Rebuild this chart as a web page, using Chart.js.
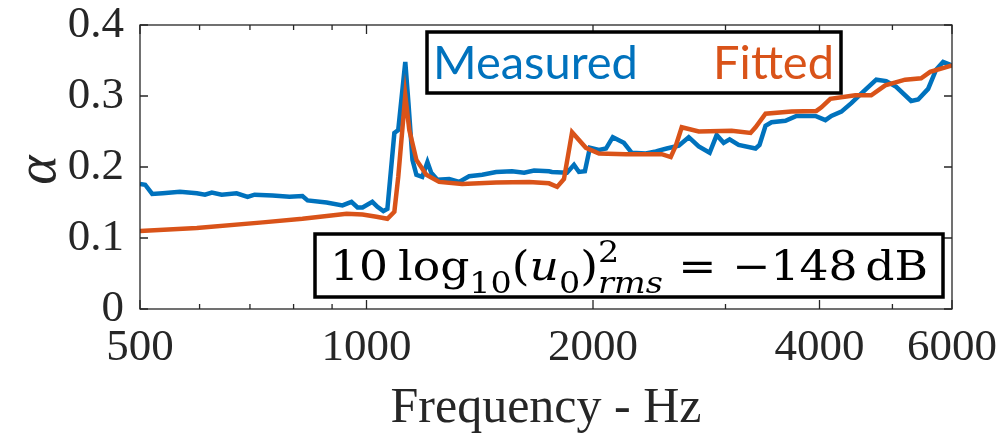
<!DOCTYPE html>
<html>
<head>
<meta charset="utf-8">
<script src="https://cdn.jsdelivr.net/npm/chart.js@4.4.1/dist/chart.umd.min.js"></script>
<style>
    html, body { margin: 0; padding: 0; background: #fff; }
    #wrap { width: 1006px; height: 435px; }
</style>
</head>
<body>
<div id="wrap"><canvas id="alpha-chart" width="1006" height="435"></canvas></div>
<script>
// Absorption coefficient vs frequency
const measuredFreq = [500, 508, 519, 536, 565, 595, 610, 623, 642, 672, 695, 710, 750, 790, 822, 835,
    885, 929, 955, 973, 988, 1018, 1034, 1053, 1066, 1089, 1102, 1126, 1137, 1151, 1165, 1186,
    1205, 1219, 1242, 1288, 1328, 1369, 1425, 1487, 1561, 1620, 1670, 1748, 1764, 1847, 1887,
    1916, 1951, 1981, 2037, 2081, 2125, 2198, 2252, 2351, 2424, 2506, 2600, 2681, 2764, 2858,
    2920, 2983, 3038, 3123, 3289, 3329, 3391, 3454, 3604, 3728, 3950, 4073, 4148, 4277, 4409,
    4574, 4759, 4906, 5058, 5295, 5410, 5577, 5715, 5839, 6000];
const measuredAlpha = [0.176, 0.175, 0.162, 0.163, 0.165, 0.163, 0.161, 0.164, 0.161, 0.163, 0.158, 0.161, 0.160, 0.158, 0.159, 0.153,
    0.150, 0.146, 0.151, 0.143, 0.143, 0.151, 0.144, 0.138, 0.141, 0.248, 0.252, 0.348, 0.290, 0.210, 0.189, 0.186,
    0.207, 0.192, 0.182, 0.183, 0.179, 0.187, 0.189, 0.193, 0.194, 0.192, 0.195, 0.194, 0.193, 0.192, 0.203,
    0.193, 0.194, 0.227, 0.224, 0.226, 0.242, 0.234, 0.220, 0.219, 0.222, 0.226, 0.230, 0.242, 0.229, 0.220,
    0.245, 0.234, 0.239, 0.231, 0.226, 0.231, 0.258, 0.263, 0.265, 0.272, 0.272, 0.266, 0.272, 0.278, 0.290,
    0.306, 0.323, 0.321, 0.313, 0.293, 0.295, 0.310, 0.337, 0.348, 0.343];

const fittedFreq = [500, 595, 728, 822, 941, 988, 1031, 1066, 1089, 1102, 1126, 1140, 1165, 1201, 1249,
    1340, 1487, 1645, 1748, 1792, 1830, 1876, 1957, 2037, 2212, 2468, 2537, 2577, 2624, 2764,
    3057, 3239, 3289, 3391, 3671, 3962, 4023, 4135, 4463, 4686, 4891, 5199, 5459, 5612, 6000];
const fittedAlpha = [0.110, 0.114, 0.122, 0.127, 0.134, 0.133, 0.130, 0.127, 0.137, 0.186, 0.301, 0.252, 0.210, 0.189, 0.179,
    0.176, 0.178, 0.179, 0.177, 0.172, 0.183, 0.249, 0.227, 0.219, 0.218, 0.218, 0.214, 0.230, 0.256, 0.250,
    0.251, 0.248, 0.256, 0.275, 0.278, 0.279, 0.284, 0.296, 0.301, 0.301, 0.315, 0.323, 0.325, 0.334, 0.343];

const xTickValues = [500, 1000, 2000, 4000, 6000];
const xMinorTicks = [600, 700, 800, 900, 3000, 5000];
const yTickValues = [0, 0.1, 0.2, 0.3, 0.4];

const BLUE = '#0072BD';
const ORANGE = '#D95319';
const AXIS = '#262626';
const SERIF = '"Liberation Serif", "Times New Roman", serif';

function toPoints(xs, ys) {
    return xs.map((x, i) => ({ x: x, y: ys[i] }));
}

// Formula drawn piece by piece, then squeezed into the box width
function drawFormula(ctx, left, right, baseline) {
    const up = '41px "DejaVu Serif"';
    const it = 'italic 41px "DejaVu Serif"';
    const sc = '30px "DejaVu Serif"';
    const scIt = 'italic 30px "DejaVu Serif"';
    const parts = [
        { t: '10', f: up, dy: 0 },
        { gap: 9 },
        { t: 'log', f: up, dy: 0 },
        { t: '10', f: sc, dy: 13 },
        { t: '(', f: up, dy: 0 },
        { t: 'u', f: it, dy: 0 },
        { t: '0', f: sc, dy: 13 },
        { t: ')', f: up, dy: 0 },
        { t: '2', f: sc, dy: -18, still: true },
        { t: 'rms', f: scIt, dy: 13 },
        { gap: 14 },
        { t: '=', f: up, dy: 0 },
        { gap: 14 },
        { t: '\u2212148', f: up, dy: 0 },
        { gap: 7 },
        { t: 'dB', f: up, dy: 0 }
    ];
    let total = 0;
    parts.forEach(p => {
        if (p.gap) { p.w = p.gap; } else { ctx.font = p.f; p.w = ctx.measureText(p.t).width; }
        if (!p.still) total += p.w;
    });
    const sx = (right - left) / total;
    ctx.save();
    ctx.translate(left, baseline);
    ctx.scale(sx, 1);
    ctx.fillStyle = '#000';
    ctx.textAlign = 'left';
    ctx.textBaseline = 'alphabetic';
    let x = 0;
    parts.forEach(p => {
        if (!p.gap) {
            ctx.font = p.f;
            ctx.fillText(p.t, x, p.dy);
        }
        if (!p.still) x += p.w;
    });
    ctx.restore();
}

const frameAndNotes = {
    id: 'frameAndNotes',
    afterDatasetsDraw(chart) {
        const { ctx, chartArea: a, scales: { x, y } } = chart;
        ctx.save();

        // axes box with inward ticks, MATLAB style
        ctx.strokeStyle = AXIS;
        ctx.lineWidth = 1.3;
        ctx.beginPath();
        xTickValues.forEach(v => {
            const px = x.getPixelForValue(v);
            ctx.moveTo(px, a.bottom); ctx.lineTo(px, a.bottom - 9);
            ctx.moveTo(px, a.top); ctx.lineTo(px, a.top + 9);
        });
        xMinorTicks.forEach(v => {
            const px = x.getPixelForValue(v);
            ctx.moveTo(px, a.bottom); ctx.lineTo(px, a.bottom - 5);
            ctx.moveTo(px, a.top); ctx.lineTo(px, a.top + 5);
        });
        yTickValues.forEach(v => {
            const py = y.getPixelForValue(v);
            ctx.moveTo(a.left, py); ctx.lineTo(a.left + 8, py);
            ctx.moveTo(a.right, py); ctx.lineTo(a.right - 8, py);
        });
        ctx.stroke();
        ctx.strokeRect(a.left, a.top, a.right - a.left, a.bottom - a.top);

        // axis titles
        ctx.fillStyle = AXIS;
        ctx.font = '50px ' + SERIF;
        ctx.textAlign = 'center';
        ctx.textBaseline = 'alphabetic';
        ctx.fillText('Frequency - Hz', (a.left + a.right) / 2, 422);

        ctx.save();
        ctx.translate(40, 170);
        ctx.rotate(-Math.PI / 2);
        ctx.font = 'italic 56px ' + SERIF;
        ctx.textBaseline = 'middle';
        ctx.fillText('\u03B1', 0, 0);
        ctx.restore();

        // legend box
        ctx.fillStyle = '#fff';
        ctx.fillRect(427, 32, 414, 61);
        ctx.strokeStyle = '#000';
        ctx.lineWidth = 3.5;
        ctx.strokeRect(427, 32, 414, 61);
        ctx.font = '47px Lato, "Open Sans", sans-serif';
        ctx.textBaseline = 'alphabetic';
        ctx.textAlign = 'left';
        ctx.fillStyle = BLUE;
        ctx.fillText('Measured', 433, 79);
        ctx.textAlign = 'right';
        ctx.fillStyle = ORANGE;
        ctx.fillText('Fitted', 834, 79);

        // noise level box
        ctx.fillStyle = '#fff';
        ctx.fillRect(315, 234, 628, 63);
        ctx.strokeStyle = '#000';
        ctx.lineWidth = 3.5;
        ctx.strokeRect(315, 234, 628, 63);
        drawFormula(ctx, 330, 928, 280);

        ctx.restore();
    }
};

function createAlphaChart() {
    const canvas = document.getElementById('alpha-chart');
    if (!canvas) {
        console.warn('Chart canvas not found');
        return;
    }
    try {
        const data = {
            datasets: [{
                label: 'Measured',
                data: toPoints(measuredFreq, measuredAlpha),
                borderColor: BLUE,
                borderWidth: 4.5,
                pointRadius: 0,
                showLine: true,
                tension: 0,
                order: 2
            }, {
                label: 'Fitted',
                data: toPoints(fittedFreq, fittedAlpha),
                borderColor: ORANGE,
                borderWidth: 4.5,
                pointRadius: 0,
                showLine: true,
                tension: 0,
                order: 1
            }]
        };

        const tickFont = { family: SERIF, size: 45, lineHeight: 1 };

        const config = {
            type: 'scatter',
            data: data,
            plugins: [frameAndNotes],
            options: {
                responsive: false,
                animation: false,
                devicePixelRatio: 1,
                layout: { padding: { top: 25, right: 54, left: 0, bottom: 0 } },
                plugins: {
                    legend: { display: false },
                    tooltip: { enabled: false }
                },
                scales: {
                    x: {
                        type: 'logarithmic',
                        min: 500,
                        max: 6000,
                        grid: { display: false, drawTicks: false },
                        border: { display: false },
                        afterBuildTicks: scale => {
                            scale.ticks = xTickValues.map(v => ({ value: v }));
                        },
                        afterFit: scale => {
                            scale.height = 126;
                            scale.paddingLeft = 0;
                            scale.paddingRight = 0;
                        },
                        ticks: {
                            autoSkip: false,
                            maxRotation: 0,
                            padding: 17,
                            color: AXIS,
                            font: tickFont,
                            callback: v => String(v)
                        }
                    },
                    y: {
                        min: 0,
                        max: 0.4,
                        grid: { display: false, drawTicks: false },
                        border: { display: false },
                        afterBuildTicks: scale => {
                            scale.ticks = yTickValues.map(v => ({ value: v }));
                        },
                        afterFit: scale => {
                            scale.width = 140;
                            scale.paddingTop = 0;
                            scale.paddingBottom = 0;
                        },
                        ticks: {
                            padding: 16,
                            color: AXIS,
                            font: tickFont,
                            callback: v => (v === 0 ? '0' : v.toFixed(1))
                        }
                    }
                }
            }
        };

        new Chart(canvas, config);
    } catch (error) {
        console.error('Error creating chart:', error);
    }
}

createAlphaChart();
</script>
</body>
</html>
